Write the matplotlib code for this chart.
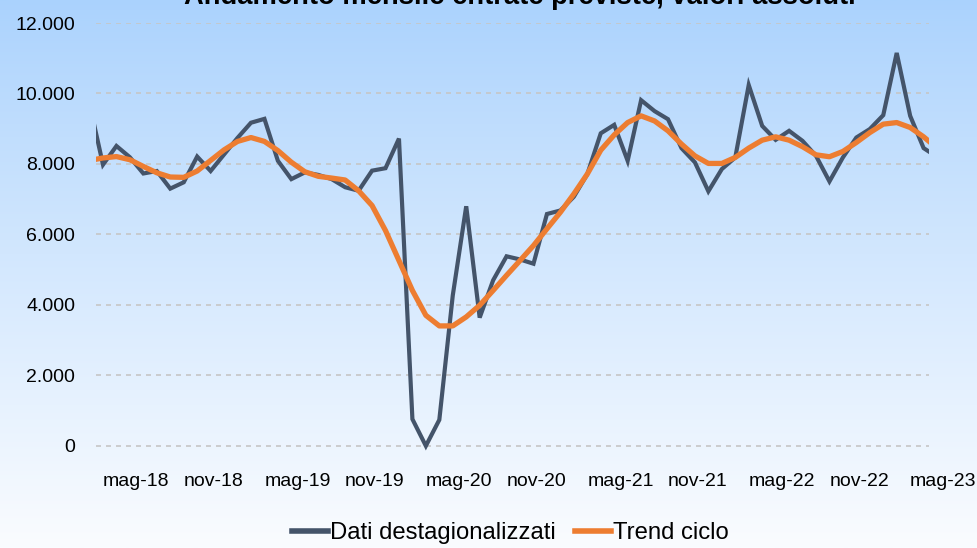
import numpy as np
import matplotlib.pyplot as plt
from matplotlib.lines import Line2D
from matplotlib import font_manager

plt.rcParams['font.family'] = ['Liberation Sans', 'DejaVu Sans']

# monthly index: 0 = mag-18 (first value is the month before, only partly visible)
dati = [9700, 7980, 8510, 8190, 7730, 7800, 7300, 7480, 8210, 7800, 8270,
        8740, 9170, 9280, 8090, 7570, 7760, 7690, 7570, 7340, 7240, 7810,
        7880, 8720, 760, 0, 740, 4270, 6800, 3640, 4700, 5380, 5290, 5170,
        6580, 6680, 7070, 7710, 8870, 9110, 8090, 9810, 9500, 9270, 8450,
        8045, 7225, 7855, 8185, 10240, 9080, 8685, 8940, 8655, 8230, 7505,
        8185, 8750, 8990, 9385, 11150, 9365, 8450, 8200]
trend = [8100, 8170, 8210, 8120, 7930, 7750, 7630, 7620, 7800, 8100, 8400,
         8640, 8750, 8640, 8380, 8050, 7780, 7650, 7600, 7545, 7240, 6820,
         6110, 5260, 4410, 3705, 3405, 3405, 3660, 3990, 4410, 4840, 5260,
         5685, 6160, 6630, 7150, 7715, 8390, 8825, 9175, 9365, 9220, 8940,
         8565, 8230, 8015, 8015, 8185, 8450, 8675, 8770, 8675, 8490, 8260,
         8205, 8355, 8610, 8890, 9130, 9175, 9035, 8770, 8450]
tick_labels = ['mag-18', 'nov-18', 'mag-19', 'nov-19', 'mag-20', 'nov-20',
               'mag-21', 'nov-21', 'mag-22', 'nov-22', 'mag-23']

x = np.arange(len(dati)) - 1

narrow_ok = 'Liberation Sans Narrow' in {f.name for f in font_manager.fontManager.ttflist}
narrow = ['Liberation Sans Narrow'] if narrow_ok else ['Liberation Sans']
k = 1.0 if narrow_ok else 0.82

fig = plt.figure(figsize=(9.78, 5.48), dpi=100)

# gradient background
bg = fig.add_axes([0, 0, 1, 1], zorder=-10)
grad = np.linspace(0, 1, 256).reshape(-1, 1)
top = np.array([170, 210, 253]) / 255
bottom = np.array([250, 252, 255]) / 255
img = top + (bottom - top) * grad[:, :, None] ** 0.9
bg.imshow(img, aspect='auto', extent=[0, 1, 0, 1])
bg.axis('off')

ax = fig.add_axes([96 / 978, 1 - 460 / 548, (929 - 96) / 978, (460 - 23) / 548])
ax.patch.set_alpha(0)
ax.plot(x, dati, color='#44546a', lw=3.0, solid_joinstyle='miter', zorder=3)
ax.plot(x, trend, color='#ed7d31', lw=3.8, solid_joinstyle='round',
        solid_capstyle='round', zorder=4)

ax.set_xlim(-0.52, 61.4)
ax.set_ylim(-400, 12000)
yt = np.arange(0, 12001, 2000)
ax.set_yticks(yt)
ax.set_yticklabels(['{:,}'.format(v).replace(',', '.') for v in yt], fontsize=14)
for v in yt:
    ax.axhline(v, color='#c6c6c6', lw=1.2, ls=(0, (3, 3)), zorder=1)
ax.tick_params(axis='y', length=0, pad=15)
ax.set_xticks([])
for s in ax.spines.values():
    s.set_visible(False)

for i, lab in enumerate(tick_labels):
    ax.text(i * 6, -1000, lab, ha='left', va='center', fontsize=14, clip_on=False)

fig.text(0.532, 1 - 4 / 548, 'Andamento mensile entrate previste, valori assoluti',
         ha='center', va='baseline', fontsize=24 * k, fontweight='bold',
         family=narrow)

handles = [Line2D([], [], color='#44546a', lw=4),
           Line2D([], [], color='#ed7d31', lw=4)]
fig.legend(handles, ['Dati destagionalizzati', 'Trend ciclo'], loc='center',
           bbox_to_anchor=(0.522, 1 - 533 / 548), ncol=2, frameon=False,
           prop={'family': narrow, 'size': 21 * k}, handlelength=1.5,
           handletextpad=0.1, columnspacing=0.8)

fig.savefig('out.png', dpi=100)
